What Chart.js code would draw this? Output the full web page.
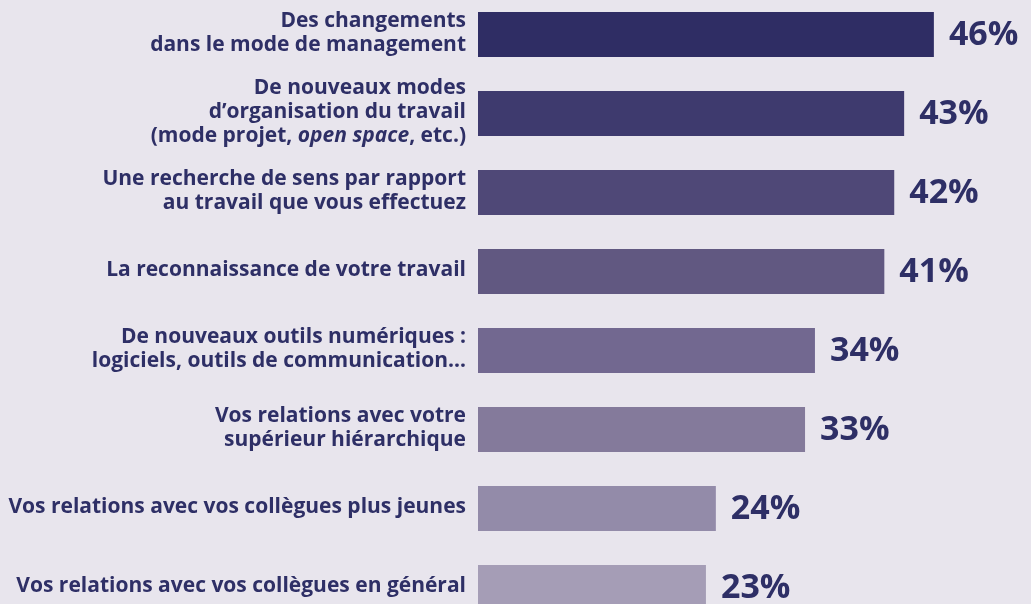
<!DOCTYPE html>
<html>
<head>
<meta charset="utf-8">
<script src="https://cdn.jsdelivr.net/npm/chart.js@4/dist/chart.umd.min.js"></script>
<style>
  html, body { margin: 0; padding: 0; background: #e8e5ed; overflow: hidden; }
  #wrap { position: absolute; left: 0; top: -5px; width: 1031px; height: 632px; }
</style>
</head>
<body>
<div id="wrap"><canvas id="chart" width="1031" height="632"></canvas></div>
<script>
// labels, one array per category (one entry per line); _..._ marks italic text
const categories = [
    ['Des changements', 'dans le mode de management'],
    ['De nouveaux modes', 'd\u2019organisation du travail', '(mode projet, _open space_, etc.)'],
    ['Une recherche de sens par rapport', 'au travail que vous effectuez'],
    ['La reconnaissance de votre travail'],
    ['De nouveaux outils num\u00e9riques :', 'logiciels, outils de communication\u2026'],
    ['Vos relations avec votre', 'sup\u00e9rieur hi\u00e9rarchique'],
    ['Vos relations avec vos coll\u00e8gues plus jeunes'],
    ['Vos relations avec vos coll\u00e8gues en g\u00e9n\u00e9ral']
]
const values = [46, 43, 42, 41, 34, 33, 24, 23]
const barColors = ['#2f2d64', '#3e3a6e', '#4f4877', '#615881', '#726890', '#847a9b', '#938ba9', '#a59db6']

const textColor = '#2e2f66'
const labelFont = 'Open Sans, sans-serif'

let drawLine = (ctx, line, right, y) => {
    // split into normal / italic pieces and draw right to left
    let parts = line.split('_')
    let pieces = parts.map((t, i) => ({ t: t, it: i % 2 == 1 }))
    let x = right
    for (let i = pieces.length - 1; i >= 0; i--) {
        let p = pieces[i]
        ctx.font = (p.it ? 'italic ' : '') + '700 21px ' + labelFont
        ctx.textAlign = 'right'
        ctx.fillText(p.t, x, y)
        x -= ctx.measureText(p.t).width
    }
}

const labelPlugin = {
    id: 'labels',
    afterDatasetsDraw(chart) {
        const ctx = chart.ctx
        const yScale = chart.scales.y
        const bars = chart.getDatasetMeta(0).data
        ctx.save()
        ctx.fillStyle = textColor
        ctx.textBaseline = 'middle'
        categories.forEach((lines, i) => {
            let yc = yScale.getPixelForValue(i) - 1
            let lh = 24
            let y0 = yc - (lines.length - 1) * lh / 2
            lines.forEach((line, j) => drawLine(ctx, line, 466, y0 + j * lh))
        })
        ctx.font = '700 34px ' + labelFont
        ctx.textAlign = 'left'
        bars.forEach((bar, i) => {
            ctx.fillText(values[i] + '%', bar.x + 15, bar.y + 1)
        })
        ctx.restore()
    }
}

const config = {
    type: 'bar',
    data: {
        labels: categories.map(c => c.join(' ')),
        datasets: [{
            data: values,
            backgroundColor: barColors,
            borderWidth: 0,
            categoryPercentage: 1,
            barPercentage: 45 / 79
        }]
    },
    options: {
        indexAxis: 'y',
        responsive: false,
        animation: false,
        devicePixelRatio: 1,
        layout: { padding: 0 },
        plugins: { legend: { display: false }, tooltip: { enabled: false } },
        scales: {
            x: { display: false, min: 0, max: 55.8 },
            y: {
                grid: { display: false },
                border: { display: false },
                ticks: { display: false },
                afterFit: (scale) => { scale.width = 478 }
            }
        }
    },
    plugins: [labelPlugin]
}

const chart = new Chart(document.getElementById('chart'), config)
</script>
</body>
</html>
